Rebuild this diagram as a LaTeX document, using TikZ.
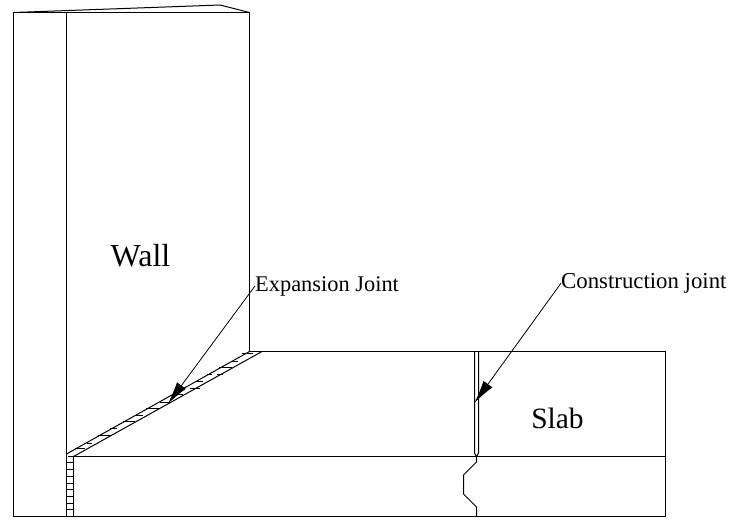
\documentclass[tikz,border=0pt]{standalone}
\usepackage{fontspec}
\setmainfont{Liberation Serif}
\usetikzlibrary{arrows.meta}
\tikzset{
	line/.style={black,line width=1pt},
	leader/.style={black,line width=0.8pt,-{Latex[length=23pt,width=11pt]},shorten >=-1pt},
	big label/.style={inner sep=0pt,font=\fontsize{32}{32}\selectfont},
	small label/.style={inner sep=0pt,anchor=base west,font=\fontsize{22.4}{22.4}\selectfont}
}
\begin{document}
\begin{tikzpicture}[x=1pt,y=-1pt]
		\useasboundingbox (0,0) rectangle (731,525);
		% wall
		\draw [line] (13.5,516.5) -- (13.5,12.5) -- (249.5,12.5) -- (249.5,351.5);
		\draw [line] (66.5,12.5) -- (66.5,516.5);
		\draw [line] (13.5,12.5) -- (220,5) -- (249.5,12.5);
		% slab
		\draw [line] (249.5,351.5) -- (665.5,351.5) -- (665.5,516.5) -- (13.5,516.5);
		\draw [line] (73.5,456.5) -- (665.5,456.5);
		% expansion joint
		\draw [line] (66.5,454) -- (249.5,351.5);
		\draw [line] (73.5,456.5) -- (262,351.5);
		\draw [line] (73.5,456.5) -- (73.5,516.5);
		\foreach \y in {462.5,469.5,476.5,483.5,489.5,496.5,503.5,509.5}
			\draw [line] (66.5,\y) -- (73.5,\y);
		\foreach \xa/\xb/\y in {68/75/456.5,75/85/448.5,87/92/443.5,98/112/435.5,110/117/428.5,123/135/421.5,135/143/415.5,146/159/408.5,160/170/402.5,177/183/394.5,190/200/388.5,195/203/381.5,207/212/374.5,217/223/374.5,219/232/367.5,232/238/361.5,242/253/353.5}
			\draw [line] (\xa,\y) -- (\xb,\y);
		% construction joint
		\draw [line] (474.5,351.5) -- (474.5,453) -- (476.5,457) -- (478.5,453) -- (478.5,351.5);
		\draw [line] (476.5,457) -- (476.5,462) -- (463.5,475) -- (463.5,494) -- (476.5,507) -- (476.5,516.5);
		% labels
		\node [big label] (wall) at (140.5,256) {Wall};
		\node [big label,font=\fontsize{29.5}{29.5}\selectfont] (slab) at (557.5,418) {Slab};
		\node [small label] (expansion) at (255,291) {Expansion Joint};
		\node [small label,font=\fontsize{22.8}{22.8}\selectfont] (construction) at (561,288.3) {Construction joint};
		% leaders
		\coordinate (expansiontip) at (168.3,403.3);
		\coordinate (constructiontip) at (475,402);
		\draw [leader] (expansion.west) -- (expansiontip);
		\draw [leader] (construction.west) -- (constructiontip);
\end{tikzpicture}
\end{document}
